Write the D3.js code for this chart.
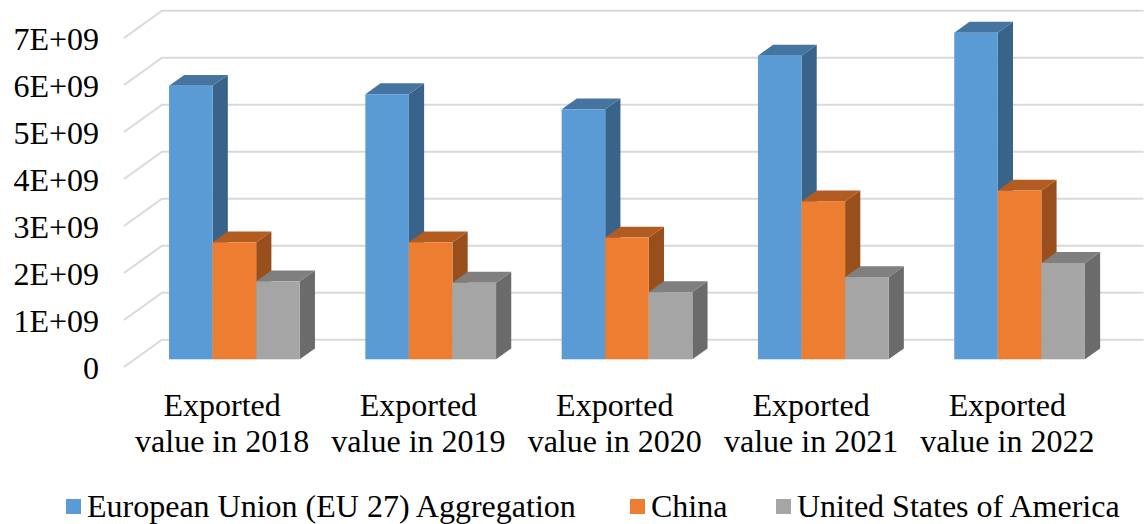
<!DOCTYPE html>
<html><head><meta charset="utf-8">
<script src="https://cdn.jsdelivr.net/npm/d3@7"></script>
<style>html,body{margin:0;padding:0;background:#fff}svg{display:block}</style>
</head><body>
<svg id="chart" width="1146" height="524"></svg>
<script>
const categories = ["2018", "2019", "2020", "2021", "2022"];
const categoryLine1 = "Exported";
const categoryLine2 = ["value in 2018", "value in 2019", "value in 2020", "value in 2021", "value in 2022"];
const seriesNames = ["European Union (EU 27) Aggregation", "China", "United States of America"];
const euValues = [5.82e9, 5.64e9, 5.32e9, 6.46e9, 6.95e9];
const chinaValues = [2.49e9, 2.49e9, 2.59e9, 3.36e9, 3.59e9];
const usaValues = [1.66e9, 1.63e9, 1.43e9, 1.75e9, 2.05e9];
const tickValues = [0, 1e9, 2e9, 3e9, 4e9, 5e9, 6e9, 7e9];
const tickLabels = ["0", "1E+09", "2E+09", "3E+09", "4E+09", "5E+09", "6E+09", "7E+09"];

const seriesValues = [euValues, chinaValues, usaValues];
const faceColors = ["#5b9bd5", "#ed7d31", "#a5a5a5"];
const topColors = ["#4674a0", "#b35c22", "#7f7f7f"];
const sideColors = ["#396388", "#994f1c", "#6b6b6b"];

const svg = d3.select("#chart");
const font = "'Liberation Serif', 'Times New Roman', serif";

// Floor geometry (oblique 3D)
const depth = {dx: 38, dy: -27.2};
const x = d3.scaleBand().domain(categories).range([124, 1105.5]).paddingInner(0).paddingOuter(0);
const y = d3.scaleLinear().domain([0, 7e9]).range([367, 38]);
const inner = d3.scaleBand().domain(d3.range(3)).range([0, x.bandwidth()]).paddingInner(0).paddingOuter(0.753);

// gridlines: diagonal on side wall + horizontal on back wall
const grid = svg.append("g").attr("fill", "none").attr("stroke", "#d9d9d9").attr("stroke-width", 2);
tickValues.forEach(v => {
  const fx = x.range()[0], fy = y(v);
  grid.append("path").attr("d", `M${fx},${fy}L${fx + depth.dx},${fy + depth.dy}L${x.range()[1] + depth.dx},${fy + depth.dy}`);
});

// tick labels
svg.append("g").selectAll("text").data(tickValues).join("text")
  .attr("x", 99).attr("y", d => y(d) + 11.5)
  .attr("text-anchor", "end")
  .attr("font-family", font).attr("font-size", 32).attr("fill", "#000")
  .text((d, i) => tickLabels[i]);

// bars
const faceFrac = 0.283, barFrac = 0.4;
const fdx = depth.dx * faceFrac, fdy = depth.dy * faceFrac;
const bdx = depth.dx * barFrac, bdy = depth.dy * barFrac;
const bars = svg.append("g");
categories.forEach((c, ci) => {
  seriesValues.forEach((vals, si) => {
    const x0 = x(c) + inner(si) + fdx + 1.5;
    const w = inner.bandwidth();
    const y0 = y(0) + fdy;
    const y1 = y(vals[ci]) + fdy;
    const g = bars.append("g");
    // side face
    g.append("path").attr("fill", sideColors[si])
      .attr("d", `M${x0 + w},${y0}L${x0 + w + bdx},${y0 + bdy}L${x0 + w + bdx},${y1 + bdy}L${x0 + w},${y1}Z`);
    // top face
    g.append("path").attr("fill", topColors[si])
      .attr("d", `M${x0},${y1}L${x0 + bdx},${y1 + bdy}L${x0 + w + bdx},${y1 + bdy}L${x0 + w},${y1}Z`);
    // front face
    g.append("rect").attr("x", x0).attr("y", y1).attr("width", w).attr("height", y0 - y1)
      .attr("fill", faceColors[si]);
  });
});

// category labels
const cl = svg.append("g").attr("font-family", font).attr("font-size", 32).attr("fill", "#000").attr("text-anchor", "middle");
categories.forEach((c, ci) => {
  const cx = x(c) + x.bandwidth() / 2;
  cl.append("text").attr("x", cx).attr("y", 416).text(categoryLine1);
  cl.append("text").attr("x", cx).attr("y", 452).text(categoryLine2[ci]);
});

// legend
const legendX = [66, 630, 776];
const lg = svg.append("g");
seriesNames.forEach((n, i) => {
  lg.append("rect").attr("x", legendX[i]).attr("y", 499).attr("width", 15).attr("height", 15).attr("fill", faceColors[i]);
  lg.append("text").attr("x", legendX[i] + 21).attr("y", 517)
    .attr("font-family", font).attr("font-size", 32).attr("fill", "#000").text(n);
});
</script>
</body></html>
